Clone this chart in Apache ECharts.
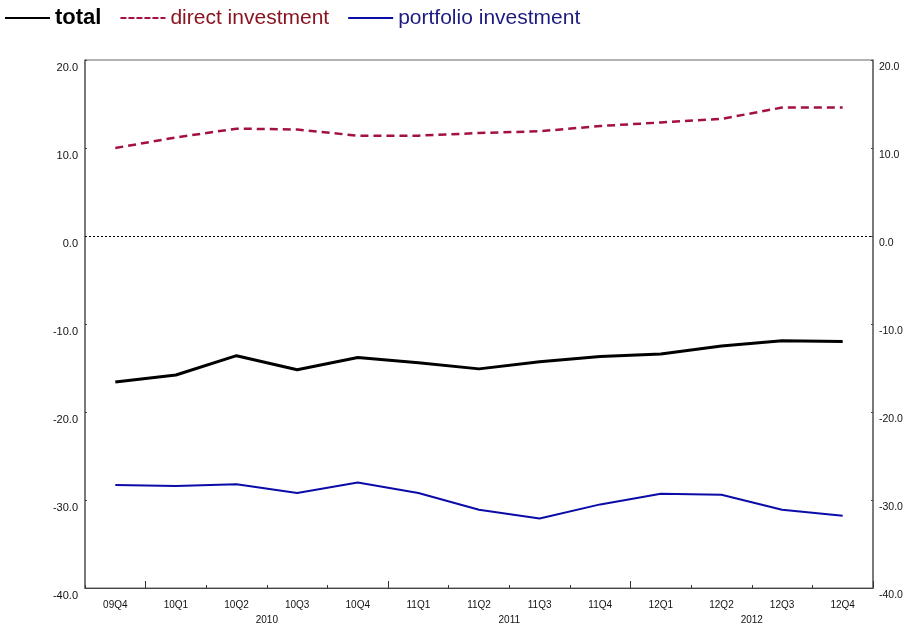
<!DOCTYPE html>
<html>
<head>
<meta charset="utf-8">
<script src="https://cdn.jsdelivr.net/npm/echarts@6/dist/echarts.min.js"></script>
<style>
html,body{margin:0;padding:0;background:#fff;overflow:hidden;}
#chart{width:906px;height:629px;}
</style>
</head>
<body>
<div id="chart"></div>
<script>
// ---- data ----
const categories = ['09Q4','10Q1','10Q2','10Q3','10Q4','11Q1','11Q2','11Q3','11Q4','12Q1','12Q2','12Q3','12Q4'];
const totalValues = [-16.6,-15.8,-13.6,-15.2,-13.8,-14.4,-15.1,-14.3,-13.7,-13.4,-12.5,-11.9,-12.0];
const directValues = [10.0,11.2,12.2,12.1,11.4,11.4,11.7,11.9,12.5,12.9,13.3,14.6,14.6];
const portfolioValues = [-28.3,-28.4,-28.2,-29.2,-28.0,-29.2,-31.1,-32.1,-30.5,-29.3,-29.4,-31.1,-31.8];
const yearLabels = ['2010','2011','2012'];
const yearBoundaryAfter = ['10Q2','11Q2','12Q2'];   // year label sits at boundary after this quarter
const majorTickBefore = ['10Q1','11Q1','12Q1'];      // long tick at start of these quarters
const yTicks = [-40,-30,-20,-10,0,10,20];

// half-step slots for year labels (boundaries of categories)
const yearSlots = [];
for (let i = 0; i <= categories.length * 2; i++) yearSlots.push('');
yearBoundaryAfter.forEach((q, k) => {
  const idx = categories.indexOf(q);
  yearSlots[(idx + 1) * 2] = yearLabels[k];
});
const majorIdx = majorTickBefore.map(q => categories.indexOf(q));

const chart = echarts.init(document.getElementById('chart'), null, {width: 906, height: 629});
const fmt = v => v.toFixed(1);
const yCommon = {
  type: 'value',
  min: yTicks[0],
  max: yTicks[yTicks.length - 1],
  interval: 10,
  splitLine: {show: false},
  axisLine: {show: true, lineStyle: {color: '#666', width: 1.5}},
  axisTick: {show: true, inside: true, length: 2, lineStyle: {color: '#444'}},
  axisLabel: {formatter: fmt, fontFamily: 'Liberation Sans', fontSize: 11, color: '#111',
              verticalAlign: 'top', padding: [2, 0, 0, 0]}
};

chart.setOption({
  animation: false,
  backgroundColor: '#fff',
  legend: {
    left: 0, top: 2,
    itemWidth: 45, itemHeight: 2, itemGap: 19,
    selectedMode: false,
    data: [
      {name: 'total', icon: 'path://M0,0H45V2H0Z',
       textStyle: {fontFamily: 'Liberation Sans', fontSize: 22, fontWeight: 'bold', color: '#000'}},
      {name: 'direct investment', icon: 'path://M0,0H6V2H0Z M8,0H14V2H8Z M16,0H22V2H16Z M24,0H30V2H24Z M32,0H38V2H32Z M40,0H45V2H40Z',
       textStyle: {fontFamily: 'Liberation Sans', fontSize: 21, color: '#8a1420'}},
      {name: 'portfolio investment', icon: 'path://M0,0H45V2H0Z',
       textStyle: {fontFamily: 'Liberation Sans', fontSize: 21, color: '#1c1c80'}}
    ]
  },
  grid: {left: 85, right: 33, top: 60, bottom: 41, show: true, borderColor: '#666', borderWidth: 1,
         outerBoundsMode: 'none', containLabel: false},
  xAxis: [
    {
      type: 'category', data: categories, boundaryGap: true, position: 'bottom',
      axisLine: {show: true, onZero: false, lineStyle: {color: '#444', width: 1}},
      axisTick: {show: true, inside: true, length: 3, interval: 0, lineStyle: {color: '#333'}},
      axisLabel: {interval: 0, margin: 12, fontFamily: 'Liberation Sans', fontSize: 10, color: '#111'}
    },
    {
      type: 'category', data: categories, boundaryGap: true, position: 'bottom',
      axisLine: {show: false, onZero: false},
      axisTick: {show: true, inside: true, length: 7, interval: (i) => majorIdx.includes(i), lineStyle: {color: '#333'}},
      axisLabel: {show: false}
    },
    {
      type: 'category', data: yearSlots, boundaryGap: false, position: 'bottom', offset: 15,
      axisLine: {show: false, onZero: false}, axisTick: {show: false},
      axisLabel: {interval: 0, margin: 12, fontFamily: 'Liberation Sans', fontSize: 10, color: '#111'}
    }
  ],
  yAxis: [
    Object.assign({}, yCommon, {position: 'left', axisLabel: Object.assign({}, yCommon.axisLabel, {margin: 7})}),
    Object.assign({}, yCommon, {position: 'right', axisLabel: Object.assign({}, yCommon.axisLabel, {margin: 6, fontSize: 10.5})})
  ],
  series: [
    {
      name: 'total', type: 'line', data: totalValues, xAxisIndex: 0, yAxisIndex: 0,
      symbol: 'none', color: '#000',
      lineStyle: {color: '#000', width: 3},
      markLine: {
        silent: true, symbol: 'none', label: {show: false},
        lineStyle: {color: '#000', type: [2, 2], width: 1},
        data: [{yAxis: 0}]
      }
    },
    {
      name: 'direct investment', type: 'line', data: directValues, xAxisIndex: 0, yAxisIndex: 0,
      symbol: 'none', color: '#a3123f',
      lineStyle: {color: '#a3123f', width: 2.5, type: [8, 5]}
    },
    {
      name: 'portfolio investment', type: 'line', data: portfolioValues, xAxisIndex: 0, yAxisIndex: 0,
      symbol: 'none', color: '#0b0ba8',
      lineStyle: {color: '#0b0ba8', width: 2}
    }
  ]
});
</script>
</body>
</html>
